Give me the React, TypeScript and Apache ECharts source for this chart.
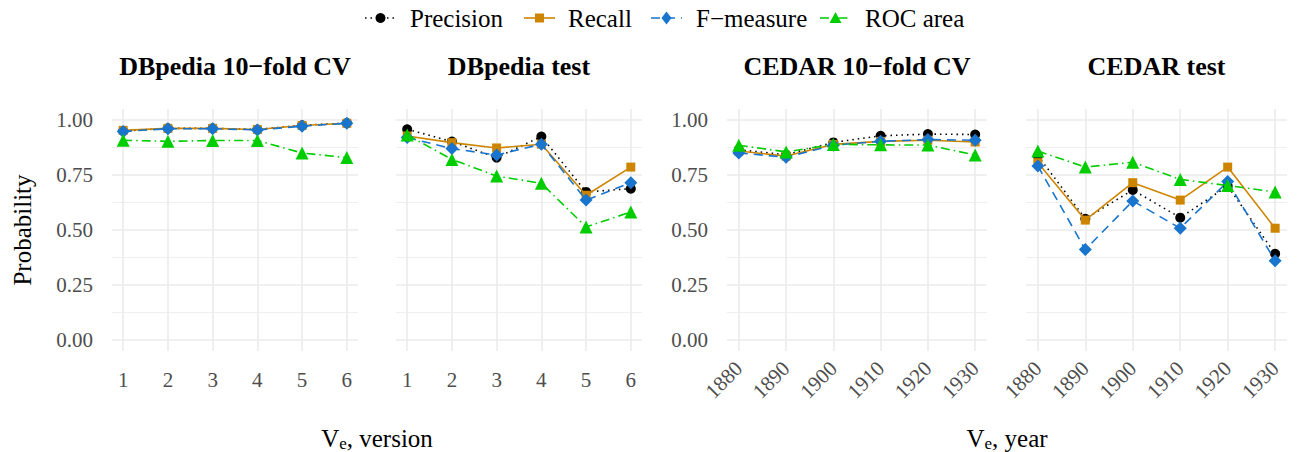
import React, { useEffect, useRef } from "react";
import * as echarts from "echarts";

const FONT = "Liberation Serif";

const versions = [1, 2, 3, 4, 5, 6];
const years = [1880, 1890, 1900, 1910, 1920, 1930];

const measures = ["Precision", "Recall", "F\u2212measure", "ROC area"];
const colors = ["#000000", "#CD8500", "#1874CD", "#00CD00"];
const symbols = ["circle", "rect", "diamond", "triangle"];
const symbolSizes = [10, 9, 13, 13];
const dashes: any[] = [[1.5, 4], "solid", [9, 6], [9, 4, 1.5, 4]];

const panelTitles = ["DBpedia 10\u2212fold CV", "DBpedia test", "CEDAR 10\u2212fold CV", "CEDAR test"];

// DBpedia 10-fold CV
const dbCvPrecision = [0.950, 0.962, 0.962, 0.957, 0.976, 0.986];
const dbCvRecall = [0.953, 0.962, 0.962, 0.957, 0.975, 0.985];
const dbCvF = [0.948, 0.960, 0.960, 0.955, 0.972, 0.985];
const dbCvRoc = [0.908, 0.903, 0.907, 0.907, 0.850, 0.829];

// DBpedia test
const dbTestPrecision = [0.958, 0.902, 0.829, 0.925, 0.673, 0.688];
const dbTestRecall = [0.927, 0.897, 0.873, 0.890, 0.658, 0.786];
const dbTestF = [0.920, 0.870, 0.841, 0.890, 0.636, 0.715];
const dbTestRoc = [0.932, 0.821, 0.745, 0.712, 0.514, 0.582];

// CEDAR 10-fold CV
const cedarCvPrecision = [0.865, 0.842, 0.898, 0.928, 0.936, 0.934];
const cedarCvRecall = [0.859, 0.836, 0.889, 0.903, 0.908, 0.900];
const cedarCvF = [0.850, 0.831, 0.885, 0.903, 0.911, 0.908];
const cedarCvRoc = [0.885, 0.855, 0.889, 0.887, 0.886, 0.841];

// CEDAR test
const cedarTestPrecision = [0.838, 0.551, 0.682, 0.556, 0.700, 0.392];
const cedarTestRecall = [0.806, 0.545, 0.715, 0.636, 0.786, 0.508];
const cedarTestF = [0.791, 0.411, 0.632, 0.508, 0.720, 0.360];
const cedarTestRoc = [0.859, 0.786, 0.808, 0.730, 0.702, 0.673];

const yTicks = [0, 0.25, 0.5, 0.75, 1];

const panelData = [
  [dbCvPrecision, dbCvRecall, dbCvF, dbCvRoc],
  [dbTestPrecision, dbTestRecall, dbTestF, dbTestRoc],
  [cedarCvPrecision, cedarCvRecall, cedarCvF, cedarCvRoc],
  [cedarTestPrecision, cedarTestRecall, cedarTestF, cedarTestRoc],
];
const panelX = [versions, versions, years, years];

const grids = [
  { left: 112, width: 246 },
  { left: 396, width: 246 },
  { left: 727, width: 260 },
  { left: 1026, width: 261 },
];
const GRID_TOP = 109;
const GRID_H = 242;

// legend key layout (icon left edge, text left edge)
const legendIconX = [365, 524, 651, 820];
const legendTextX = [410, 568, 696, 865];
const LEGEND_Y = 18;
const LEGEND_ICON_W = 31;

function legendSymbol(m: number, cx: number, cy: number): any {
  const c = colors[m];
  if (m === 0) return { type: "circle", shape: { cx, cy, r: 5 }, style: { fill: c } };
  if (m === 1) return { type: "rect", shape: { x: cx - 4.5, y: cy - 4.5, width: 9, height: 9 }, style: { fill: c } };
  if (m === 2)
    return {
      type: "polygon",
      shape: { points: [[cx, cy - 6.5], [cx + 5, cy], [cx, cy + 6.5], [cx - 5, cy]] },
      style: { fill: c },
    };
  return {
    type: "polygon",
    shape: { points: [[cx, cy - 6], [cx + 6, cy + 5], [cx - 6, cy + 5]] },
    style: { fill: c },
  };
}

export default function App() {
  const ref = useRef<HTMLDivElement>(null);
  useEffect(() => {
    if (!ref.current) return;
    const chart = echarts.init(ref.current, undefined, { renderer: "svg" });

    const xAxis = panelX.map((xs, i) => {
      const span = xs[xs.length - 1] - xs[0];
      const step = xs[1] - xs[0];
      return {
        type: "value",
        gridIndex: i,
        min: xs[0] - span * 0.05,
        max: xs[xs.length - 1] + span * 0.05,
        minInterval: step,
        maxInterval: step,
        axisLine: { show: false },
        axisTick: { show: false },
        axisLabel: {
          showMinLabel: false,
          showMaxLabel: false,
          fontFamily: FONT,
          fontSize: 21,
          color: "#4D4D4D",
          margin: i >= 2 ? 14 : 18,
          rotate: i >= 2 ? 45 : 0,
          formatter: (v: number) => (xs.indexOf(v) >= 0 ? String(v) : ""),
        },
        splitLine: {
          show: true,
          showMinLine: false,
          showMaxLine: false,
          lineStyle: { color: "#EBEBEB", width: 1.6 },
        },
      };
    });

    const yAxis = panelX.map((_, i) => ({
      type: "value",
      gridIndex: i,
      min: -0.05,
      max: 1.05,
      minInterval: 0.25,
      maxInterval: 0.25,
      splitNumber: 4,
      axisLine: { show: false },
      axisTick: { show: false },
      axisLabel: {
        show: i === 0 || i === 2,
        showMinLabel: false,
        showMaxLabel: false,
        fontFamily: FONT,
        fontSize: 21,
        color: "#4D4D4D",
        margin: 19,
        formatter: (v: number) => {
          const hit = yTicks.find((t) => Math.abs(t - v) < 1e-6);
          return hit === undefined ? "" : hit.toFixed(2);
        },
      },
      splitLine: {
        show: true,
        showMinLine: false,
        showMaxLine: false,
        lineStyle: { color: "#EBEBEB", width: 1.6 },
      },
      minorTick: { show: false, splitNumber: 2 },
      minorSplitLine: { show: true, lineStyle: { color: "#EBEBEB", width: 0.8 } },
    }));

    const series: any[] = [];
    panelData.forEach((arrs, p) => {
      arrs.forEach((vals, m) => {
        series.push({
          type: "line",
          name: measures[m],
          xAxisIndex: p,
          yAxisIndex: p,
          data: vals.map((v, k) => [panelX[p][k], v]),
          symbol: symbols[m],
          symbolSize: symbolSizes[m],
          showSymbol: true,
          clip: false,
          itemStyle: { color: colors[m] },
          lineStyle: { color: colors[m], width: 1.6, type: dashes[m] },
          emphasis: { disabled: true },
          z: 2 + m,
        });
      });
    });

    const axisTitleRich = {
      m: { fontFamily: FONT, fontSize: 25, lineHeight: 28, color: "#000" },
      s: { fontFamily: FONT, fontSize: 17, lineHeight: 16, verticalAlign: "bottom", color: "#000" },
    };

    const graphic: any[] = [];
    grids.forEach((g, i) => {
      graphic.push({
        type: "text",
        x: g.left + g.width / 2,
        y: 66,
        style: {
          text: panelTitles[i],
          fontFamily: FONT,
          fontSize: 26,
          fontWeight: "bold",
          fill: "#000",
          align: "center",
          verticalAlign: "middle",
        },
      });
    });
    graphic.push({
      type: "text",
      x: 22,
      y: GRID_TOP + GRID_H / 2,
      rotation: Math.PI / 2,
      style: {
        text: "Probability",
        fontFamily: FONT,
        fontSize: 25,
        fill: "#000",
        align: "center",
        verticalAlign: "middle",
      },
    });
    graphic.push({
      type: "text",
      x: (grids[0].left + grids[1].left + grids[1].width) / 2,
      y: 438,
      style: {
        text: "{m|V}{s|e}{m|, version}",
        rich: axisTitleRich,
        align: "center",
        verticalAlign: "middle",
      },
    });
    graphic.push({
      type: "text",
      x: (grids[2].left + grids[3].left + grids[3].width) / 2,
      y: 438,
      style: {
        text: "{m|V}{s|e}{m|, year}",
        rich: axisTitleRich,
        align: "center",
        verticalAlign: "middle",
      },
    });

    // legend keys
    measures.forEach((name, m) => {
      const x0 = legendIconX[m];
      graphic.push({
        type: "line",
        shape: { x1: x0, y1: LEGEND_Y, x2: x0 + LEGEND_ICON_W, y2: LEGEND_Y },
        style: {
          stroke: colors[m],
          lineWidth: 1.6,
          lineDash: dashes[m] === "solid" ? null : dashes[m],
        },
      });
      graphic.push(legendSymbol(m, x0 + LEGEND_ICON_W / 2, LEGEND_Y));
      graphic.push({
        type: "text",
        x: legendTextX[m],
        y: LEGEND_Y,
        style: {
          text: name,
          fontFamily: FONT,
          fontSize: 25,
          fill: "#000",
          align: "left",
          verticalAlign: "middle",
        },
      });
    });

    chart.setOption({
      animation: false,
      backgroundColor: "#FFFFFF",
      textStyle: { fontFamily: FONT },
      grid: grids.map((g) => ({
        left: g.left,
        width: g.width,
        top: GRID_TOP,
        height: GRID_H,
        containLabel: false,
      })),
      xAxis,
      yAxis,
      series,
      graphic,
    });

    return () => chart.dispose();
  }, []);

  return (
    <div
      ref={ref}
      style={{ position: "fixed", left: 0, top: 0, width: 1297, height: 452, background: "#fff" }}
    />
  );
}
